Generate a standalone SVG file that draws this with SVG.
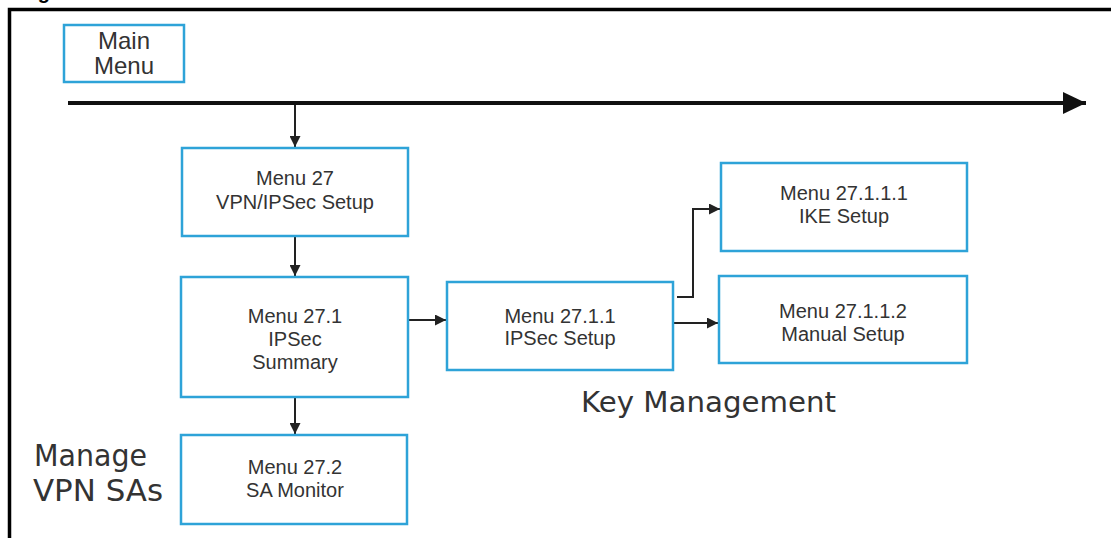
<svg xmlns="http://www.w3.org/2000/svg" width="1111" height="538" viewBox="0 0 1111 538">
<style>
.box{fill:#ffffff;stroke:#2ea3d8;stroke-width:2.5}
.t{font-family:"Liberation Sans",Arial,sans-serif;font-size:20px;fill:#333333;text-anchor:middle}
.big{font-family:"DejaVu Sans",Verdana,sans-serif;fill:#333333}
.c{fill:none;stroke:#222222;stroke-width:2}
</style>
<defs>
<marker id="ah" markerUnits="userSpaceOnUse" markerWidth="12" markerHeight="11" refX="11" refY="5.5" orient="auto">
<path d="M0,0 L11,5.5 L0,11 z" fill="#222222"/>
</marker>
<marker id="bh" markerUnits="userSpaceOnUse" markerWidth="24" markerHeight="22" refX="23" refY="11" orient="auto">
<path d="M0,0 L23,11 L0,22 z" fill="#111111"/>
</marker>
</defs>
<rect x="0" y="0" width="1111" height="538" fill="#ffffff"/>
<text x="20" y="-1" style="font-family:'Liberation Sans',Arial,sans-serif;font-size:20px;font-weight:bold;fill:#000">Figure</text>
<path d="M9.5,538 V9.5 H1111" fill="none" stroke="#000000" stroke-width="3.5"/>
<g id="connectors">
<line x1="68" y1="103" x2="1086" y2="103" stroke="#111111" stroke-width="4" marker-end="url(#bh)"/>
<line class="c" x1="295" y1="105" x2="295" y2="147" marker-end="url(#ah)"/>
<line class="c" x1="295" y1="237" x2="295" y2="276" marker-end="url(#ah)"/>
<line class="c" x1="295" y1="398" x2="295" y2="434" marker-end="url(#ah)"/>
<line class="c" x1="409" y1="320" x2="446" y2="320" marker-end="url(#ah)"/>
<path class="c" d="M677,297 H693 V209 H720" marker-end="url(#ah)"/>
<line class="c" x1="674" y1="323" x2="718" y2="323" marker-end="url(#ah)"/>
</g>
<g id="main-menu">
<rect class="box" x="64" y="25" width="120" height="57"/>
<text class="t" x="124" y="49" style="font-size:24px">Main</text>
<text class="t" x="124" y="74" style="font-size:24px">Menu</text>
</g>
<g id="menu-27">
<rect class="box" x="182" y="148" width="226" height="88"/>
<text class="t" x="295" y="185">Menu 27</text>
<text class="t" x="295" y="209">VPN/IPSec Setup</text>
</g>
<g id="menu-27-1">
<rect class="box" x="181" y="277" width="227" height="120"/>
<text class="t" x="295" y="323">Menu 27.1</text>
<text class="t" x="295" y="346">IPSec</text>
<text class="t" x="295" y="369">Summary</text>
</g>
<g id="menu-27-2">
<rect class="box" x="181" y="435" width="226" height="89"/>
<text class="t" x="295" y="474">Menu 27.2</text>
<text class="t" x="295" y="497">SA Monitor</text>
</g>
<g id="menu-27-1-1">
<rect class="box" x="447" y="282" width="226" height="88"/>
<text class="t" x="560" y="323">Menu 27.1.1</text>
<text class="t" x="560" y="345">IPSec Setup</text>
</g>
<g id="menu-27-1-1-1">
<rect class="box" x="721" y="163" width="246" height="88"/>
<text class="t" x="844" y="200">Menu 27.1.1.1</text>
<text class="t" x="844" y="223">IKE Setup</text>
</g>
<g id="menu-27-1-1-2">
<rect class="box" x="719" y="276" width="248" height="87"/>
<text class="t" x="843" y="318">Menu 27.1.1.2</text>
<text class="t" x="843" y="341">Manual Setup</text>
</g>
<g id="labels">
<text class="big" x="34" y="466" style="font-size:30px" textLength="113" lengthAdjust="spacingAndGlyphs">Manage</text>
<text class="big" x="33" y="501" style="font-size:30px" textLength="130" lengthAdjust="spacingAndGlyphs">VPN SAs</text>
<text class="big" x="581" y="412" style="font-size:28px" textLength="255" lengthAdjust="spacingAndGlyphs">Key Management</text>
</g>
</svg>
